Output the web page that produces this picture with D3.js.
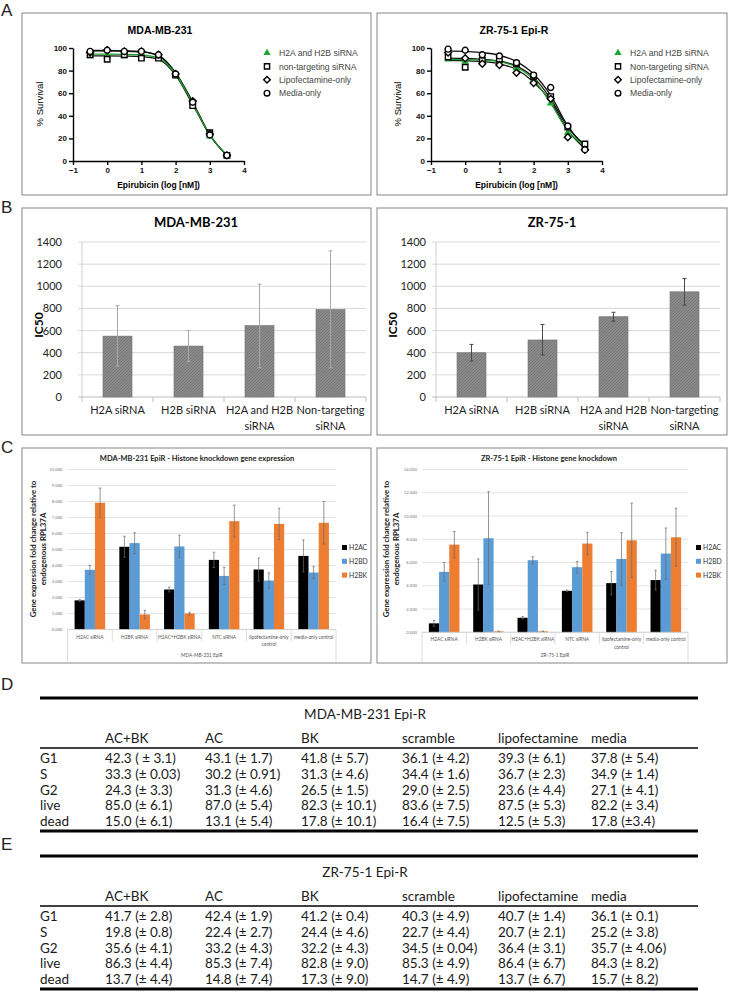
<!DOCTYPE html>
<html lang="en">
<head>
<meta charset="utf-8">
<title>Histone knockdown figure</title>
<script src="https://d3js.org/d3.v7.min.js"></script>
<style>
  body { margin: 0; background: #fff; }
  svg { display: block; font-family: "Liberation Sans", Arial, sans-serif; }
  .box { fill: none; stroke: #9a9a9a; stroke-width: 1.2; }
  .letter { font-size: 17px; fill: #222; }
  .cal { font-family: Lato, "Open Sans", sans-serif; }
  .surv .domain, .surv .tick line { stroke: #000; stroke-width: 1.4; }
  .surv .tick text { font-size: 8px; font-weight: bold; fill: #111; }
</style>
</head>
<body>
<svg id="fig" width="729" height="992"></svg>
<script>
"use strict"

// ---- A: survival vs dose (log nM)
const doses = [-0.5, 0, 0.5, 1, 1.5, 2, 2.5, 3, 3.5]
const xTicksA = [-1, 0, 1, 2, 3, 4]
const yTicksA = [0, 20, 40, 60, 80, 100]
const legendMda = ["H2A and H2B siRNA", "non-targeting siRNA", "Lipofectamine-only", "Media-only"]
const legendZr = ["H2A and H2B siRNA", "Non-targeting siRNA", "Lipofectamine-only", "Media-only"]

const mdaH2ab  = [93, 93, 93, 92, 91, 76, 52, 22, 5]
const mdaNtc   = [94, 90, 94, 91, 91, 76, 49, 25, 5]
const mdaLipo  = [96, 98, 97, 97, 94, 77, 53, 24, 5]
const mdaMedia = [97, 98, 97, 97, 94, 77, 52, 23, 5]
// fitted curves at the same doses
const mdaFitH2ab  = [94.5, 94.5, 94.3, 93.8, 91, 77, 51, 23, 5]
const mdaFitNtc   = [93, 93, 92.8, 92.3, 90, 76, 50, 23, 5]
const mdaFitLipo  = [97.5, 97.5, 97.2, 96.5, 93, 78, 52, 23, 5]
const mdaFitMedia = [97.8, 97.8, 97.5, 96.8, 93.5, 78, 52, 23, 5]

const zrH2ab  = [90, 88, 88, 87, 82, 72, 51, 25, 12]
const zrNtc   = [92, 83, 89, 90, 86, 75, 57, 30, 15]
const zrLipo  = [96, 91, 86, 85, 78, 69, 55, 21, 10]
const zrMedia = [99, 98, 94, 93, 87, 76, 65, 31, 10]
const zrFitH2ab  = [90, 89.8, 89.3, 88, 83, 72, 51, 27, 13]
const zrFitNtc   = [91, 90.7, 90, 88.5, 84, 74, 55, 30, 14]
const zrFitLipo  = [89, 88.7, 88, 86, 81, 70, 53, 27, 11]
const zrFitMedia = [97.5, 97, 96, 93.5, 88, 77, 58, 31, 12]

// ---- B: IC50
const ic50Labels = [["H2A siRNA"], ["H2B siRNA"], ["H2A and H2B", "siRNA"], ["Non-targeting", "siRNA"]]
const mdaIc50   = [550, 460, 645, 790]
const mdaIc50Lo = [280, 320, 265, 265]
const mdaIc50Hi = [825, 600, 1020, 1320]
const zrIc50   = [400, 515, 725, 950]
const zrIc50Lo = [325, 380, 685, 830]
const zrIc50Hi = [475, 655, 765, 1070]

// ---- C: gene expression
const genes = ["H2AC", "H2BD", "H2BK"]
const exprLabels = [["H2AC siRNA"], ["H2BK siRNA"], ["H2AC+H2BK siRNA"], ["NTC siRNA"],
                    ["lipofectamine-only", "control"], ["media-only control"]]
const mdaH2AC = [1.82, 5.17, 2.5, 4.35, 3.75, 4.6]
const mdaH2ACerr = [0.06, 0.66, 0.15, 0.48, 0.72, 1.0]
const mdaH2BD = [3.73, 5.4, 5.19, 3.35, 3.06, 3.56]
const mdaH2BDerr = [0.28, 0.65, 0.7, 0.54, 0.48, 0.37]
const mdaH2BK = [7.92, 0.94, 1.0, 6.77, 6.6, 6.67]
const mdaH2BKerr = [0.92, 0.26, 0.08, 1.0, 0.98, 1.33]
const zrH2AC = [0.77, 4.11, 1.25, 3.57, 4.23, 4.49]
const zrH2ACerr = [0.25, 2.2, 0.1, 0.05, 1.0, 0.85]
const zrH2BD = [5.2, 8.09, 6.2, 5.6, 6.31, 6.77]
const zrH2BDerr = [0.8, 4.0, 0.3, 0.5, 2.27, 2.2]
const zrH2BK = [7.54, 0.08, 0.08, 7.63, 7.91, 8.17]
const zrH2BKerr = [1.13, 0.03, 0.03, 0.97, 3.2, 2.5]

// ---- D / E: cell cycle tables
const tableCols = ["AC+BK", "AC", "BK", "scramble", "lipofectamine", "media"]
const tableRows = ["G1", "S", "G2", "live", "dead"]
const mdaTable = [
  ["42.3 ( ± 3.1)", "43.1 (± 1.7)", "41.8 (± 5.7)", "36.1 (± 4.2)", "39.3 (± 6.1)", "37.8 (± 5.4)"],
  ["33.3 (± 0.03)", "30.2 (± 0.91)", "31.3 (± 4.6)", "34.4 (± 1.6)", "36.7 (± 2.3)", "34.9 (± 1.4)"],
  ["24.3 (± 3.3)", "31.3 (± 4.6)", "26.5 (± 1.5)", "29.0 (± 2.5)", "23.6 (± 4.4)", "27.1 (± 4.1)"],
  ["85.0 (± 6.1)", "87.0 (± 5.4)", "82.3 (± 10.1)", "83.6 (± 7.5)", "87.5 (± 5.3)", "82.2 (± 3.4)"],
  ["15.0 (± 6.1)", "13.1 (± 5.4)", "17.8 (± 10.1)", "16.4 (± 7.5)", "12.5 (± 5.3)", "17.8 (±3.4)"]
]
const zrTable = [
  ["41.7 (± 2.8)", "42.4 (± 1.9)", "41.2 (± 0.4)", "40.3 (± 4.9)", "40.7 (± 1.4)", "36.1 (± 0.1)"],
  ["19.8 (± 0.8)", "22.4 (± 2.7)", "24.4 (± 4.6)", "22.7 (± 4.4)", "20.7 (± 2.1)", "25.2 (± 3.8)"],
  ["35.6 (± 4.1)", "33.2 (± 4.3)", "32.2 (± 4.3)", "34.5 (± 0.04)", "36.4 (± 3.1)", "35.7 (± 4.06)"],
  ["86.3 (± 4.4)", "85.3 (± 7.4)", "82.8 (± 9.0)", "85.3 (± 4.9)", "86.4 (± 6.7)", "84.3 (± 8.2)"],
  ["13.7 (± 4.4)", "14.8 (± 7.4)", "17.3 (± 9.0)", "14.7 (± 4.9)", "13.7 (± 6.7)", "15.7 (± 8.2)"]
]

const svg = d3.select("#fig")

// hatch for IC50 bars
const pat = svg.append("defs").append("pattern")
  .attr("id", "hatch").attr("patternUnits", "userSpaceOnUse")
  .attr("width", 3).attr("height", 3)
pat.append("rect").attr("width", 3).attr("height", 3).attr("fill", "#8a8a8a")
pat.append("path").attr("d", "M0,3 L3,0").attr("stroke", "#747474").attr("stroke-width", 0.8)

function box(x0, y0, x1, y1) {
  svg.append("rect").attr("class", "box")
    .attr("x", x0).attr("y", y0).attr("width", x1 - x0).attr("height", y1 - y0)
}

function letter(t, x, y) {
  svg.append("text").attr("class", "letter").attr("x", x).attr("y", y).text(t)
}

/*
 * A - dose response
 */
function survival(cfg) {
  const g = svg.append("g").attr("class", "surv")
  const x = d3.scaleLinear().domain([-1, 4]).range([cfg.left, cfg.left + 171])
  const y = d3.scaleLinear().domain([0, 100]).range([161, 48])

  g.append("text").attr("x", cfg.titleX).attr("y", 34)
    .attr("text-anchor", "middle").attr("font-size", 10.5).attr("font-weight", "bold")
    .text(cfg.title)

  g.append("g").attr("transform", "translate(0," + y(0) + ")")
    .call(d3.axisBottom(x).tickValues(xTicksA).tickFormat(d3.format("d"))
      .tickSize(4).tickPadding(2).tickSizeOuter(0))
  g.append("g").attr("transform", "translate(" + x(-1) + ",0)")
    .call(d3.axisLeft(y).tickValues(yTicksA).tickSize(4).tickPadding(2).tickSizeOuter(0))

  g.append("text").attr("x", (x(-1) + x(4)) / 2).attr("y", 188)
    .attr("text-anchor", "middle").attr("font-size", 8.5).attr("font-weight", "bold")
    .text("Epirubicin (log [nM])")
  g.append("text").attr("transform", "translate(" + (cfg.left - 30) + ",104) rotate(-90)")
    .attr("text-anchor", "middle").attr("font-size", 9.5).text("% Survival")

  const line = d3.line().x((d, i) => x(doses[i])).y(d => y(d)).curve(d3.curveMonotoneX)
  const shapes = [d3.symbolTriangle, d3.symbolSquare, d3.symbolSquare, d3.symbolCircle]
  const sizes = [26, 30, 24, 28]
  const rot = [0, 0, 45, 0]

  // black fits first, green one on top
  cfg.fits.slice().reverse().forEach((f, k) => {
    g.append("path").attr("d", line(f)).attr("fill", "none")
      .attr("stroke", k === cfg.fits.length - 1 ? "#1f9e2f" : "#111").attr("stroke-width", 1.3)
  })
  cfg.points.forEach((p, k) => {
    g.selectAll(null).data(p).enter().append("path")
      .attr("d", d3.symbol().type(shapes[k]).size(sizes[k]))
      .attr("transform", (d, i) => "translate(" + x(doses[i]) + "," + y(d) + ") rotate(" + rot[k] + ")")
      .attr("fill", k === 0 ? "#1fa52f" : "#fff")
      .attr("stroke", k === 0 ? "none" : "#000").attr("stroke-width", 1.4)
  })

  // legend
  const lg = g.append("g")
  cfg.legend.forEach((t, k) => {
    const yy = 53 + k * 13.4
    lg.append("path").attr("d", d3.symbol().type(shapes[k]).size(sizes[k] * 0.9))
      .attr("transform", "translate(" + cfg.legX + "," + yy + ") rotate(" + rot[k] + ")")
      .attr("fill", k === 0 ? "#1fa52f" : "#fff")
      .attr("stroke", k === 0 ? "none" : "#000").attr("stroke-width", 1.4)
    lg.append("text").attr("x", cfg.legX + 12).attr("y", yy + 3.2)
      .attr("font-size", 8.6).attr("fill", "#444").text(t)
  })
}

/*
 * B - IC50 bars
 */
function ic50(cfg) {
  const g = svg.append("g").attr("class", "cal")
  const x = d3.scaleBand().domain(d3.range(4)).range([cfg.left, cfg.left + 284])
  const y = d3.scaleLinear().domain([0, 1400]).range([397, 242])
  const bw = 29

  g.append("text").attr("x", cfg.titleX).attr("y", 227)
    .attr("text-anchor", "middle").attr("font-size", 13).attr("font-weight", "bold").text(cfg.title)

  const ticks = d3.range(0, 1401, 200)
  g.selectAll("line.grid").data(ticks.slice(1)).enter().append("line")
    .attr("x1", cfg.left - 4).attr("x2", cfg.left + 284)
    .attr("y1", d => y(d)).attr("y2", d => y(d))
    .attr("stroke", "#d9d9d9").attr("stroke-width", 1)
  g.selectAll("text.yt").data(ticks).enter().append("text")
    .attr("x", cfg.labelX).attr("y", d => y(d) + 4)
    .attr("text-anchor", "end").attr("font-size", 11).attr("fill", "#222").text(d => d)
  g.append("line").attr("x1", cfg.left).attr("x2", cfg.left).attr("y1", y(1400)).attr("y2", y(0))
    .attr("stroke", "#cfcfcf")
  g.append("line").attr("x1", cfg.left - 4).attr("x2", cfg.left + 284).attr("y1", y(0)).attr("y2", y(0))
    .attr("stroke", "#bdbdbd")
  g.selectAll("line.xt").data(d3.range(5)).enter().append("line")
    .attr("x1", i => cfg.left + i * x.bandwidth()).attr("x2", i => cfg.left + i * x.bandwidth())
    .attr("y1", y(0)).attr("y2", y(0) + 5).attr("stroke", "#bdbdbd")

  g.append("text").attr("transform", "translate(" + cfg.ttlX + ",325) rotate(-90)")
    .attr("text-anchor", "middle").attr("font-size", 12).attr("font-weight", "bold").text("IC50")

  const bars = g.selectAll("g.bar").data(cfg.values).enter().append("g")
  bars.append("rect")
    .attr("x", (d, i) => x(i) + (x.bandwidth() - bw) / 2).attr("width", bw)
    .attr("y", d => y(d)).attr("height", d => y(0) - y(d))
    .attr("fill", "url(#hatch)").attr("stroke", "#707070").attr("stroke-width", 0.6)
  bars.append("line")
    .attr("x1", (d, i) => x(i) + x.bandwidth() / 2).attr("x2", (d, i) => x(i) + x.bandwidth() / 2)
    .attr("y1", (d, i) => y(cfg.lo[i])).attr("y2", (d, i) => y(cfg.hi[i]))
    .attr("stroke", cfg.errColor).attr("stroke-width", 1)
  ;["lo", "hi"].forEach(k => {
    bars.append("line")
      .attr("x1", (d, i) => x(i) + x.bandwidth() / 2 - 2).attr("x2", (d, i) => x(i) + x.bandwidth() / 2 + 2)
      .attr("y1", (d, i) => y(cfg[k][i])).attr("y2", (d, i) => y(cfg[k][i]))
      .attr("stroke", cfg.errColor).attr("stroke-width", 1)
  })

  ic50Labels.forEach((lines, i) => {
    lines.forEach((t, j) => {
      g.append("text").attr("x", x(i) + x.bandwidth() / 2).attr("y", 414 + j * 16)
        .attr("text-anchor", "middle").attr("font-size", 11).attr("fill", "#222").text(t)
    })
  })
}

/*
 * C - gene expression, grouped bars
 */
function expression(cfg) {
  const g = svg.append("g").attr("class", "cal")
  const x = d3.scaleBand().domain(d3.range(6)).range([cfg.left, cfg.right])
  const xg = d3.scaleBand().domain(genes).range([0, 30.6])
  const y = d3.scaleLinear().domain([0, cfg.max]).range([cfg.base, 469.5])
  const colors = ["#000000", "#5b9bd5", "#ed7d31"]
  const fmt = d3.format(".3f")

  g.append("text").attr("x", cfg.titleX).attr("y", 461)
    .attr("text-anchor", "middle").attr("font-size", 7.5).attr("font-weight", "bold").attr("fill", "#222")
    .text(cfg.title)

  const ticks = d3.range(0, cfg.max + 0.01, cfg.step)
  g.selectAll("line.grid").data(ticks).enter().append("line")
    .attr("x1", cfg.left).attr("x2", cfg.right)
    .attr("y1", d => y(d)).attr("y2", d => y(d))
    .attr("stroke", "#dcdcdc").attr("stroke-width", 0.8)
  g.selectAll("text.yt").data(ticks).enter().append("text")
    .attr("x", cfg.left - 5).attr("y", d => y(d) + 1.5)
    .attr("text-anchor", "end").attr("font-size", 4.2).attr("fill", "#777").text(d => fmt(d))

  g.append("text").attr("transform", "translate(" + cfg.ttlX + ",549) rotate(-90)")
    .attr("text-anchor", "middle").attr("font-size", 7.8).attr("font-weight", "bold").attr("fill", "#222")
    .selectAll("tspan").data(["Gene expression fold change relative to", "endogenous RPL37A"]).enter()
    .append("tspan").attr("x", 0).attr("dy", (d, i) => i === 0 ? 0 : 9.5).text(d => d)

  cfg.series.forEach((s, k) => {
    const off = (x.bandwidth() - 30.6) / 2 + xg(genes[k])
    g.selectAll(null).data(s.v).enter().append("rect")
      .attr("x", (d, i) => x(i) + off).attr("width", xg.bandwidth())
      .attr("y", d => y(d)).attr("height", d => y(0) - y(d))
      .attr("fill", colors[k])
    const cx = i => x(i) + off + xg.bandwidth() / 2
    g.selectAll(null).data(s.v).enter().append("path")
      .attr("d", (d, i) => {
        const a = y(d + s.e[i]), b = y(Math.max(0, d - s.e[i]))
        return "M" + cx(i) + "," + a + "V" + b +
          "M" + (cx(i) - 1.2) + "," + a + "H" + (cx(i) + 1.2) +
          "M" + (cx(i) - 1.2) + "," + b + "H" + (cx(i) + 1.2)
      })
      .attr("stroke", "#6a6a6a").attr("stroke-width", 0.7).attr("fill", "none")
  })

  // category axis
  g.append("line").attr("x1", cfg.left).attr("x2", cfg.right).attr("y1", y(0)).attr("y2", y(0))
    .attr("stroke", "#cfcfcf").attr("stroke-width", 0.8)
  g.selectAll("line.sep").data(d3.range(7)).enter().append("line")
    .attr("x1", i => cfg.left + i * x.bandwidth()).attr("x2", i => cfg.left + i * x.bandwidth())
    .attr("y1", y(0)).attr("y2", i => (i === 0 || i === 6) ? 663 : y(0) + 12)
    .attr("stroke", "#d4d4d4").attr("stroke-width", 0.8)
  exprLabels.forEach((lines, i) => {
    lines.forEach((t, j) => {
      g.append("text").attr("x", x(i) + x.bandwidth() / 2).attr("y", y(0) + 9 + j * 7.5)
        .attr("text-anchor", "middle").attr("font-size", 4.8).attr("fill", "#555").text(t)
    })
  })
  g.append("text").attr("x", (cfg.left + cfg.right) / 2).attr("y", 657)
    .attr("text-anchor", "middle").attr("font-size", 4.8).attr("fill", "#555").text(cfg.group)

  genes.forEach((t, k) => {
    g.append("rect").attr("x", cfg.legX).attr("y", 545 + k * 13.8).attr("width", 5).attr("height", 5)
      .attr("fill", colors[k])
    g.append("text").attr("x", cfg.legX + 7).attr("y", 550 + k * 13.8)
      .attr("font-size", 6.8).attr("fill", "#333").text(t)
  })
}

/*
 * D / E - tables
 */
function table(cfg) {
  const g = svg.append("g").attr("class", "cal").attr("font-size", 13.5).attr("fill", "#1a1a1a")
  const colX = d3.scaleOrdinal().domain(tableCols).range([105, 205, 301, 402, 498, 591])
  const rowY = d3.scalePoint().domain(tableRows).range([cfg.top + 65, cfg.top + 128])

  g.append("line").attr("x1", 40).attr("x2", 698).attr("y1", cfg.top).attr("y2", cfg.top)
    .attr("stroke", "#000").attr("stroke-width", 3.2)
  g.append("text").attr("x", 365).attr("y", cfg.top + 21).attr("text-anchor", "middle").text(cfg.title)
  g.selectAll(null).data(tableCols).enter().append("text")
    .attr("x", d => colX(d)).attr("y", cfg.top + 45).text(d => d)
  g.append("line").attr("x1", 40).attr("x2", 698).attr("y1", cfg.top + 50).attr("y2", cfg.top + 50)
    .attr("stroke", "#000").attr("stroke-width", 1.6)
  g.selectAll(null).data(tableRows).enter().append("text")
    .attr("x", 40).attr("y", d => rowY(d)).text(d => d)
  cfg.cells.forEach((row, r) => {
    g.selectAll(null).data(row).enter().append("text")
      .attr("x", (d, c) => colX(tableCols[c])).attr("y", rowY(tableRows[r])).text(d => d)
  })
  g.append("line").attr("x1", 40).attr("x2", 698).attr("y1", cfg.top + 133).attr("y2", cfg.top + 133)
    .attr("stroke", "#000").attr("stroke-width", 3.2)
}

// panel boxes and letters
box(22, 13, 371, 195); box(377, 13, 727, 195)
box(22, 208, 371, 435); box(377, 208, 727, 435)
box(22, 448, 371, 663); box(377, 448, 727, 663)
letter("A", 1, 16); letter("B", 1, 213); letter("C", 1, 453); letter("D", 1, 690); letter("E", 1, 850)

survival({ left: 73, titleX: 160, title: "MDA-MB-231", legX: 267, legend: legendMda,
  points: [mdaH2ab, mdaNtc, mdaLipo, mdaMedia],
  fits: [mdaFitH2ab, mdaFitNtc, mdaFitLipo, mdaFitMedia] })
survival({ left: 431, titleX: 514, title: "ZR-75-1 Epi-R", legX: 618, legend: legendZr,
  points: [zrH2ab, zrNtc, zrLipo, zrMedia],
  fits: [zrFitH2ab, zrFitNtc, zrFitLipo, zrFitMedia] })

ic50({ left: 82, labelX: 62, ttlX: 43, titleX: 196, title: "MDA-MB-231",
  values: mdaIc50, lo: mdaIc50Lo, hi: mdaIc50Hi, errColor: "#a8a8a8" })
ic50({ left: 436, labelX: 426, ttlX: 397, titleX: 552, title: "ZR-75-1",
  values: zrIc50, lo: zrIc50Lo, hi: zrIc50Hi, errColor: "#4a4a4a" })

expression({ left: 67.5, right: 336, base: 629.5, max: 10, step: 1, titleX: 197, ttlX: 36, legX: 342,
  title: "MDA-MB-231 EpiR - Histone knockdown gene expression", group: "MDA-MB-231 EpiR",
  series: [{ v: mdaH2AC, e: mdaH2ACerr }, { v: mdaH2BD, e: mdaH2BDerr }, { v: mdaH2BK, e: mdaH2BKerr }] })
expression({ left: 422, right: 688, base: 632.3, max: 14, step: 2, titleX: 549, ttlX: 389, legX: 696,
  title: "ZR-75-1 EpiR - Histone gene knockdown", group: "ZR-75-1 EpiR",
  series: [{ v: zrH2AC, e: zrH2ACerr }, { v: zrH2BD, e: zrH2BDerr }, { v: zrH2BK, e: zrH2BKerr }] })

table({ top: 698, title: "MDA-MB-231 Epi-R", cells: mdaTable })
table({ top: 856, title: "ZR-75-1 Epi-R", cells: zrTable })
</script>
</body>
</html>
